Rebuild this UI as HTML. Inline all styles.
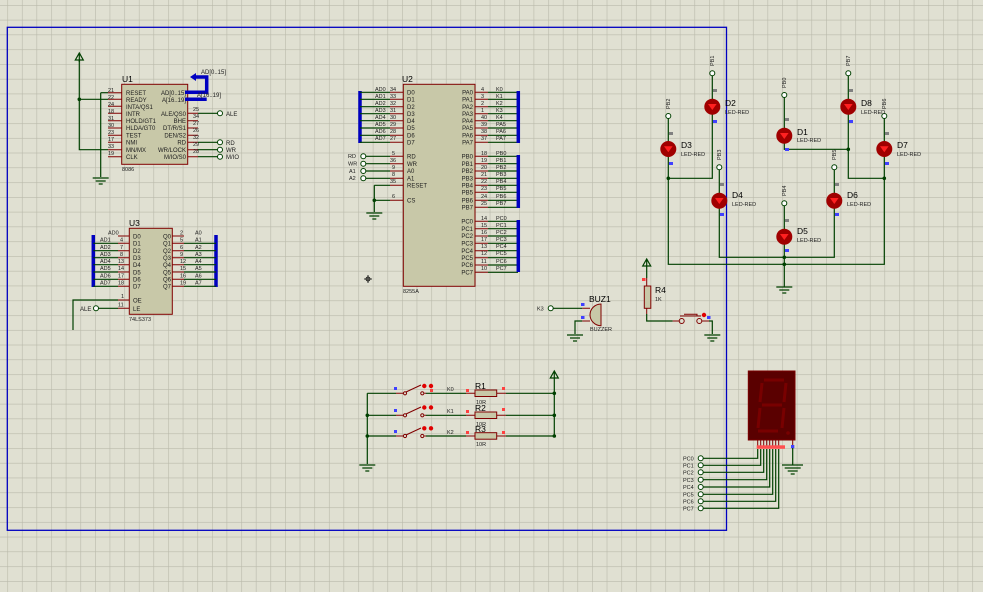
<!DOCTYPE html>
<html><head><meta charset="utf-8"><style>
html,body{margin:0;padding:0;background:#e0e0d2;}
svg{display:block;font-family:"Liberation Sans",sans-serif;}
.w{stroke:#004000;stroke-width:1.2;fill:none}
.p{stroke:#800000;stroke-width:1;fill:none}
.b{stroke:#0000c0;stroke-width:3.5;fill:none}
.t{font-size:6px;fill:#202020}
.n{font-size:5.5px;fill:#202020}
.c{font-size:8.5px;fill:#000}
.o{fill:#fff;stroke:#004000;stroke-width:1}
.j{fill:#004000}
.led{fill:#a00000}
</style></head><body>
<svg width="983" height="592" viewBox="0 0 983 592">
<defs>
<pattern id="g" x="7.3" y="5" width="14.62" height="14.77" patternUnits="userSpaceOnUse">
<path d="M0 0V14.77M0 0H14.62" stroke="#b9b9aa" stroke-width="1.2" fill="none"/>
</pattern>
<g id="gnd"><path d="M-8 0H8M-5 3H5M-2 6H2" stroke="#004000" stroke-width="1.2"/></g>
<g id="pwr"><path d="M0 0V-8M-4 -2L0 -9L4 -2Z" stroke="#004000" stroke-width="1.2" fill="none"/></g>
</defs>
<rect width="983" height="592" fill="#e0e0d2"/>
<rect width="983" height="592" fill="url(#g)"/>
<rect x="7.3" y="27.3" width="719.2" height="503" fill="none" stroke="#0000c0" stroke-width="1.3"/>

<!-- U1 8086 -->
<rect x="121.7" y="84.3" width="66" height="80" fill="#c8c8a8" stroke="#800000"/>
<text class="c" x="122" y="82">U1</text>
<text class="n" x="122" y="171">8086</text>
<g class="p">
<path d="M108 92.7H121.7M108 99.3H121.7M108 106.3H121.7M108 113.3H121.7M108 120.7H121.7M108 128H121.7M108 135.3H121.7M108 142.3H121.7M108 149.7H121.7M108 156.7H121.7"/>
<path d="M187.7 113.3H198M187.7 120.7H198M187.7 128H198M187.7 135.3H198M187.7 142.3H198M187.7 149.7H198M187.7 156.7H198"/>
</g>
<g class="t">
<text x="126" y="95">RESET</text><text x="126" y="102">READY</text><text x="126" y="109">INTA/QS1</text><text x="126" y="116">INTR</text><text x="126" y="123">HOLD/GT1</text><text x="126" y="130">HLDA/GT0</text><text x="126" y="137.5">TEST</text><text x="126" y="144.5">NMI</text><text x="126" y="152">MN/MX</text><text x="126" y="159">CLK</text>
</g>
<g class="t" text-anchor="end">
<text x="186" y="95">AD[0..15]</text><text x="186" y="102">A[16..19]</text><text x="186" y="116">ALE/QS0</text><text x="186" y="123">BHE</text><text x="186" y="130">DT/R/S1</text><text x="186" y="137.5">DEN/S2</text><text x="186" y="144.5">RD</text><text x="186" y="152">WR/LOCK</text><text x="186" y="159">M/IO/S0</text>
</g>
<g class="n">
<text x="108" y="92">21</text><text x="108" y="99">22</text><text x="108" y="106">24</text><text x="108" y="113">18</text><text x="108" y="120">31</text><text x="108" y="127">30</text><text x="108" y="134">23</text><text x="108" y="141">17</text><text x="108" y="148">33</text><text x="108" y="155">19</text>
<text x="193" y="111">25</text><text x="193" y="118">34</text><text x="193" y="125">27</text><text x="193" y="132">26</text><text x="193" y="139">32</text><text x="193" y="146">29</text><text x="193" y="153">28</text>
</g>
<path class="b" d="M185 92.3H206.7V77H193M185 99.3H206.7"/>
<path d="M196 73L190 77L196 81Z" fill="#0000c0"/>
<text class="t" x="201" y="74">AD[0..15]</text><text class="t" x="197" y="97">A[16..19]</text>
<path class="w" d="M79.3 60V149.7H108M79.3 99.3H108M100.7 92.7H108M100.7 92.7V177"/>
<circle class="j" cx="79.3" cy="99.3" r="1.8"/>
<use href="#pwr" x="79.3" y="62"/>
<use href="#gnd" x="100.7" y="178"/>
<path class="w" d="M198 113.3H217.5M198 142.3H217.5M198 149.7H217.5M198 156.7H217.5"/>
<circle class="o" cx="220" cy="113.3" r="2.5"/><circle class="o" cx="220" cy="142.3" r="2.5"/><circle class="o" cx="220" cy="149.7" r="2.5"/><circle class="o" cx="220" cy="156.7" r="2.5"/>
<g class="t"><text x="226" y="116">ALE</text><text x="226" y="145">RD</text><text x="226" y="152">WR</text><text x="226" y="159">M/IO</text></g>

<!-- U2 8255A -->
<rect x="403.3" y="84.3" width="71.7" height="202" fill="#c8c8a8" stroke="#800000"/>
<text class="c" x="402" y="82">U2</text>
<text class="n" x="403" y="293">8255A</text>
<path class="b" d="M360 91V143"/>
<path class="w" d="M360 92.3H390M360 99.3H390M360 106.7H390M360 113.7H390M360 120.7H390M360 128H390M360 135.3H390M360 142.3H390"/>
<path class="p" d="M390 92.3H403.3M390 99.3H403.3M390 106.7H403.3M390 113.7H403.3M390 120.7H403.3M390 128H403.3M390 135.3H403.3M390 142.3H403.3M390 156.3H403.3M390 163.7H403.3M390 171H403.3M390 178.3H403.3M390 185.3H403.3M390 200.3H403.3"/>
<g class="n"><text x="375" y="91">AD0</text><text x="375" y="98">AD1</text><text x="375" y="105">AD2</text><text x="375" y="112">AD3</text><text x="375" y="119">AD4</text><text x="375" y="126">AD5</text><text x="375" y="133">AD6</text><text x="375" y="140">AD7</text>
<text x="390" y="91">34</text><text x="390" y="98">33</text><text x="390" y="105">32</text><text x="390" y="112">31</text><text x="390" y="119">30</text><text x="390" y="126">29</text><text x="390" y="133">28</text><text x="390" y="140">27</text>
<text x="392" y="155">5</text><text x="390" y="162">36</text><text x="392" y="169">9</text><text x="392" y="176">8</text><text x="390" y="183">35</text><text x="392" y="198">6</text></g>
<g class="t"><text x="407" y="94.5">D0</text><text x="407" y="101.5">D1</text><text x="407" y="109">D2</text><text x="407" y="116">D3</text><text x="407" y="123">D4</text><text x="407" y="130">D5</text><text x="407" y="137.5">D6</text><text x="407" y="144.5">D7</text>
<text x="407" y="158.5">RD</text><text x="407" y="166">WR</text><text x="407" y="173">A0</text><text x="407" y="180.5">A1</text><text x="407" y="187.5">RESET</text><text x="407" y="202.5">CS</text></g>
<path class="w" d="M366 156.3H390M366 163.7H390M366 171H390M366 178.3H390M374.3 185.3H390M374.3 185.3V212M374.3 200.3H390"/>
<circle class="o" cx="363.3" cy="156.3" r="2.5"/><circle class="o" cx="363.3" cy="163.7" r="2.5"/><circle class="o" cx="363.3" cy="171" r="2.5"/><circle class="o" cx="363.3" cy="178.3" r="2.5"/>
<circle class="j" cx="374.3" cy="200.3" r="1.8"/>
<use href="#gnd" x="374.3" y="213"/>
<g class="n"><text x="348" y="158">RD</text><text x="348" y="165.5">WR</text><text x="349" y="173">A1</text><text x="349" y="180">A2</text></g>
<!-- right side -->
<path class="p" d="M475 92.3H488M475 99.3H488M475 106.7H488M475 113.7H488M475 120.7H488M475 128H488M475 135.3H488M475 142.3H488M475 156.3H488M475 163.7H488M475 171H488M475 178.3H488M475 185.3H488M475 192.3H488M475 200.3H488M475 207.3H488M475 221.3H488M475 228.7H488M475 236H488M475 243.3H488M475 250.7H488M475 257.7H488M475 265H488M475 272.3H488"/>
<path class="w" d="M488 92.3H518M488 99.3H518M488 106.7H518M488 113.7H518M488 120.7H518M488 128H518M488 135.3H518M488 142.3H518M488 156.3H518M488 163.7H518M488 171H518M488 178.3H518M488 185.3H518M488 192.3H518M488 200.3H518M488 207.3H518M488 221.3H518M488 228.7H518M488 236H518M488 243.3H518M488 250.7H518M488 257.7H518M488 265H518M488 272.3H518"/>
<path class="b" d="M518.3 91V143M518.3 155V208M518.3 220V272"/>
<g class="t" text-anchor="end"><text x="473" y="94.5">PA0</text><text x="473" y="101.5">PA1</text><text x="473" y="109">PA2</text><text x="473" y="116">PA3</text><text x="473" y="123">PA4</text><text x="473" y="130">PA5</text><text x="473" y="137.5">PA6</text><text x="473" y="144.5">PA7</text>
<text x="473" y="158.5">PB0</text><text x="473" y="166">PB1</text><text x="473" y="173">PB2</text><text x="473" y="180.5">PB3</text><text x="473" y="187.5">PB4</text><text x="473" y="194.5">PB5</text><text x="473" y="202.5">PB6</text><text x="473" y="209.5">PB7</text>
<text x="473" y="223.5">PC0</text><text x="473" y="231">PC1</text><text x="473" y="238">PC2</text><text x="473" y="245.5">PC3</text><text x="473" y="253">PC4</text><text x="473" y="260">PC5</text><text x="473" y="267">PC6</text><text x="473" y="274.5">PC7</text></g>
<g class="n"><text x="481" y="91">4</text><text x="481" y="98">3</text><text x="481" y="105">2</text><text x="481" y="112">1</text><text x="481" y="119">40</text><text x="481" y="126">39</text><text x="481" y="133">38</text><text x="481" y="140">37</text>
<text x="481" y="155">18</text><text x="481" y="162">19</text><text x="481" y="169">20</text><text x="481" y="176">21</text><text x="481" y="183">22</text><text x="481" y="190">23</text><text x="481" y="198">24</text><text x="481" y="205">25</text>
<text x="481" y="220">14</text><text x="481" y="227">15</text><text x="481" y="234">16</text><text x="481" y="241">17</text><text x="481" y="248">13</text><text x="481" y="255">12</text><text x="481" y="263">11</text><text x="481" y="270">10</text>
<text x="496" y="91">K0</text><text x="496" y="98">K1</text><text x="496" y="105">K2</text><text x="496" y="112">K3</text><text x="496" y="119">K4</text><text x="496" y="126">PA5</text><text x="496" y="133">PA6</text><text x="496" y="140">PA7</text>
<text x="496" y="155">PB0</text><text x="496" y="162">PB1</text><text x="496" y="169">PB2</text><text x="496" y="176">PB3</text><text x="496" y="183">PB4</text><text x="496" y="190">PB5</text><text x="496" y="198">PB6</text><text x="496" y="205">PB7</text>
<text x="496" y="220">PC0</text><text x="496" y="227">PC1</text><text x="496" y="234">PC2</text><text x="496" y="241">PC3</text><text x="496" y="248">PC4</text><text x="496" y="255">PC5</text><text x="496" y="263">PC6</text><text x="496" y="270">PC7</text></g>
<path d="M364 279H372M368 275V283" stroke="#000" stroke-width="0.8"/><circle cx="368" cy="279" r="2" fill="none" stroke="#000" stroke-width="0.8"/>

<!-- U3 74LS373 -->
<rect x="129.3" y="228.3" width="43" height="86" fill="#c8c8a8" stroke="#800000"/>
<text class="c" x="129" y="226">U3</text>
<text class="n" x="129" y="321">74LS373</text>
<path class="b" d="M93.3 235V287M216 235V287"/>
<path class="w" d="M93.3 243.3H118M93.3 250.7H118M93.3 257.7H118M93.3 264.7H118M93.3 272H118M93.3 279.3H118M93.3 286.3H118M184 243.3H216M184 250.7H216M184 257.7H216M184 264.7H216M184 272H216M184 279.3H216M184 286.3H216"/>
<path class="p" d="M118 236H129.3M118 243.3H129.3M118 250.7H129.3M118 257.7H129.3M118 264.7H129.3M118 272H129.3M118 279.3H129.3M118 286.3H129.3M118 300H129.3M118 308.3H129.3M172.3 236H184M172.3 243.3H184M172.3 250.7H184M172.3 257.7H184M172.3 264.7H184M172.3 272H184M172.3 279.3H184M172.3 286.3H184"/>
<path class="w" d="M73 330V300H118M98.5 308.3H118"/>
<circle class="o" cx="96" cy="308.3" r="2.5"/>
<text class="t" x="80" y="311">ALE</text>
<g class="t"><text x="133" y="238.5">D0</text><text x="133" y="245.5">D1</text><text x="133" y="253">D2</text><text x="133" y="260">D3</text><text x="133" y="267">D4</text><text x="133" y="274.5">D5</text><text x="133" y="281.5">D6</text><text x="133" y="288.5">D7</text><text x="133" y="302.5">OE</text><text x="133" y="311">LE</text></g>
<g class="t" text-anchor="end"><text x="171" y="238.5">Q0</text><text x="171" y="245.5">Q1</text><text x="171" y="253">Q2</text><text x="171" y="260">Q3</text><text x="171" y="267">Q4</text><text x="171" y="274.5">Q5</text><text x="171" y="281.5">Q6</text><text x="171" y="288.5">Q7</text></g>
<g class="n"><text x="108" y="234.5">AD0</text><text x="100" y="241.5">AD1</text><text x="100" y="249">AD2</text><text x="100" y="256">AD3</text><text x="100" y="263">AD4</text><text x="100" y="270">AD5</text><text x="100" y="277.5">AD6</text><text x="100" y="284.5">AD7</text>
<text x="120" y="241.5">4</text><text x="120" y="249">7</text><text x="120" y="256">8</text><text x="118" y="263">13</text><text x="118" y="270">14</text><text x="118" y="277.5">17</text><text x="118" y="284.5">18</text><text x="121" y="298">1</text><text x="118" y="306.5">11</text>
<text x="180" y="234.5">2</text><text x="180" y="241.5">5</text><text x="180" y="249">6</text><text x="180" y="256">9</text><text x="180" y="263">12</text><text x="180" y="270">15</text><text x="180" y="277.5">16</text><text x="180" y="284.5">19</text>
<text x="195" y="234.5">A0</text><text x="195" y="241.5">A1</text><text x="195" y="249">A2</text><text x="195" y="256">A3</text><text x="195" y="263">A4</text><text x="195" y="270">A5</text><text x="195" y="277.5">A6</text><text x="195" y="284.5">A7</text></g>

<!-- LEDs -->
<path class="w" d="M712.3 76V178.3H668.3M668.3 118.5V264.3H884.3V118.5M784.3 97.5V149.3H848.3M848.3 76V178.3H884.3M719.3 170V257.3H834.3V170M784.3 206V287"/>
<g class="j"><circle cx="668.3" cy="178.3" r="1.8"/><circle cx="884.3" cy="178.3" r="1.8"/><circle cx="848.3" cy="149.3" r="1.8"/><circle cx="784.3" cy="257.3" r="1.8"/><circle cx="784.3" cy="264.3" r="1.8"/></g>
<use href="#gnd" x="784.3" y="287"/>
<g class="o"><circle cx="712.3" cy="73.3" r="2.5"/><circle cx="668.3" cy="116" r="2.5"/><circle cx="784.3" cy="95" r="2.5"/><circle cx="848.3" cy="73.3" r="2.5"/><circle cx="884.3" cy="116" r="2.5"/><circle cx="719.3" cy="167.3" r="2.5"/><circle cx="834.3" cy="167.3" r="2.5"/><circle cx="784.3" cy="203.3" r="2.5"/></g>
<g class="n">
<text transform="translate(714,66) rotate(-90)">PB1</text><text transform="translate(670,109) rotate(-90)">PB2</text><text transform="translate(786,88) rotate(-90)">PB0</text><text transform="translate(850,66) rotate(-90)">PB7</text><text transform="translate(886,109) rotate(-90)">PB6</text><text transform="translate(721,160) rotate(-90)">PB3</text><text transform="translate(836,160) rotate(-90)">PB5</text><text transform="translate(786,196) rotate(-90)">PB4</text>
</g>
<g>
<circle class="led" cx="712.3" cy="106.7" r="8"/><path d="M708 104H716.6L712.3 110Z" fill="#ff2020"/>
<circle class="led" cx="668.3" cy="149" r="8"/><path d="M664 146.3H672.6L668.3 152.3Z" fill="#ff2020"/>
<circle class="led" cx="784.3" cy="135.7" r="8"/><path d="M780 133H788.6L784.3 139Z" fill="#ff2020"/>
<circle class="led" cx="848.3" cy="106.7" r="8"/><path d="M844 104H852.6L848.3 110Z" fill="#ff2020"/>
<circle class="led" cx="884.3" cy="149" r="8"/><path d="M880 146.3H888.6L884.3 152.3Z" fill="#ff2020"/>
<circle class="led" cx="719.3" cy="200.7" r="8"/><path d="M715 198H723.6L719.3 204Z" fill="#ff2020"/>
<circle class="led" cx="834.3" cy="200.7" r="8"/><path d="M830 198H838.6L834.3 204Z" fill="#ff2020"/>
<circle class="led" cx="784.3" cy="236.7" r="8"/><path d="M780 234H788.6L784.3 240Z" fill="#ff2020"/>
</g>
<g fill="#808080"><rect x="713" y="89" width="4" height="3"/><rect x="669" y="132" width="4" height="3"/><rect x="785" y="118" width="4" height="3"/><rect x="849" y="89" width="4" height="3"/><rect x="885" y="132" width="4" height="3"/><rect x="720" y="183" width="4" height="3"/><rect x="835" y="183" width="4" height="3"/><rect x="785" y="219" width="4" height="3"/></g>
<g fill="#4040ff"><rect x="713" y="120" width="4" height="3"/><rect x="669" y="162" width="4" height="3"/><rect x="785" y="148" width="4" height="3"/><rect x="849" y="120" width="4" height="3"/><rect x="885" y="162" width="4" height="3"/><rect x="720" y="213" width="4" height="3"/><rect x="835" y="213" width="4" height="3"/><rect x="785" y="249" width="4" height="3"/></g>
<g class="c"><text x="725" y="106">D2</text><text x="681" y="148">D3</text><text x="797" y="135">D1</text><text x="861" y="106">D8</text><text x="897" y="148">D7</text><text x="732" y="198">D4</text><text x="847" y="198">D6</text><text x="797" y="234">D5</text></g>
<g class="n"><text x="725" y="114">LED-RED</text><text x="681" y="156">LED-RED</text><text x="797" y="142">LED-RED</text><text x="861" y="114">LED-RED</text><text x="897" y="156">LED-RED</text><text x="732" y="206">LED-RED</text><text x="847" y="206">LED-RED</text><text x="797" y="242">LED-RED</text></g>

<!-- Buzzer -->
<circle class="o" cx="550.7" cy="308.3" r="2.5"/>
<text class="n" x="537" y="310.5">K3</text>
<path class="w" d="M553.2 308.3H582.3M582.3 321H575V334"/>
<path class="p" d="M582.3 308.3H590M582.3 321H590"/>
<use href="#gnd" x="575" y="335"/>
<path d="M601 304V325.7A11 11 0 0 1 590 314.8A11 11 0 0 1 601 304Z" fill="#c8c8a8" stroke="#800000"/>
<rect x="581" y="303" width="3.5" height="3" fill="#4040ff"/><rect x="581" y="316" width="3.5" height="3" fill="#4040ff"/>
<text class="c" x="589" y="302">BUZ1</text><text class="n" x="590" y="331">BUZZER</text>
<!-- R4 and button -->
<use href="#pwr" x="646.7" y="268"/>
<path class="w" d="M646.7 268V278M646.7 314V321H672.7M709 321H712.3V334"/>
<path class="p" d="M646.7 278V286M672.7 321H679.2M701.8 321H709"/>
<rect x="644.3" y="286" width="6.5" height="22.3" fill="#c8c8a8" stroke="#800000"/>
<path class="p" d="M646.7 308.3V314"/>
<rect x="642" y="278" width="3.5" height="3" fill="#ff4040"/>
<text class="c" x="655" y="293">R4</text><text class="n" x="655" y="301">1K</text>
<circle cx="681.7" cy="321" r="2.5" fill="none" stroke="#800000"/><circle cx="699.3" cy="321" r="2.5" fill="none" stroke="#800000"/>
<path class="p" d="M680 316H701M684 314.3H697V316"/>
<circle cx="704" cy="315" r="2.2" fill="#e00000"/><rect x="707" y="316" width="3.5" height="3" fill="#4040ff"/>
<use href="#gnd" x="712.3" y="335"/>

<!-- Switches & R1-R3 -->
<use href="#pwr" x="554.3" y="380"/>
<path class="w" d="M367.3 393.3V464M367.3 393.3H396M367.3 415.3H396M367.3 436H396M426 393.3H466M426 415.3H466M426 436H466M506 393.3H554.3M506 415.3H554.3M506 436H554.3M554.3 380V436"/>
<g class="j"><circle cx="367.3" cy="415.3" r="1.8"/><circle cx="367.3" cy="436" r="1.8"/><circle cx="554.3" cy="393.3" r="1.8"/><circle cx="554.3" cy="415.3" r="1.8"/><circle cx="554.3" cy="436" r="1.8"/></g>
<use href="#gnd" x="367.3" y="465"/>
<g class="p">
<path d="M396 393.3H403M396 415.3H403M396 436H403M424.5 393.3H426M424.5 415.3H426M424.5 436H426M466 393.3H475M466 415.3H475M466 436H475M496.7 393.3H506M496.7 415.3H506M496.7 436H506"/>
<circle cx="405" cy="393.3" r="1.6"/><circle cx="422.3" cy="393.3" r="1.6"/><circle cx="405" cy="415.3" r="1.6"/><circle cx="422.3" cy="415.3" r="1.6"/><circle cx="405" cy="436" r="1.6"/><circle cx="422.3" cy="436" r="1.6"/>
<path d="M406 392L421 385M406 414L421 407M406 435L421 428"/>
</g>
<rect x="475" y="390" width="21.7" height="6.5" fill="#c8c8a8" stroke="#800000"/>
<rect x="475" y="412" width="21.7" height="6.5" fill="#c8c8a8" stroke="#800000"/>
<rect x="475" y="432.7" width="21.7" height="6.5" fill="#c8c8a8" stroke="#800000"/>
<g fill="#e00000"><circle cx="424.3" cy="386" r="2.2"/><circle cx="431" cy="386" r="2.2"/><circle cx="424.3" cy="407.5" r="2.2"/><circle cx="431" cy="407.5" r="2.2"/><circle cx="424.3" cy="428.3" r="2.2"/><circle cx="431" cy="428.3" r="2.2"/></g>
<g fill="#ff4040"><rect x="430" y="389" width="3" height="3"/><rect x="466" y="389" width="3" height="3"/><rect x="502" y="387" width="3" height="3"/><rect x="466" y="410" width="3" height="3"/><rect x="502" y="408" width="3" height="3"/><rect x="466" y="431" width="3" height="3"/><rect x="502" y="431" width="3" height="3"/></g>
<g fill="#4040ff"><rect x="394" y="387" width="3" height="3"/><rect x="394" y="409" width="3" height="3"/><rect x="394" y="430" width="3" height="3"/></g>
<g class="n"><text x="447" y="391">K0</text><text x="447" y="413">K1</text><text x="447" y="434">K2</text><text x="476" y="404">10R</text><text x="476" y="426">10R</text><text x="476" y="446">10R</text></g>
<g class="c"><text x="475" y="389">R1</text><text x="475" y="411">R2</text><text x="475" y="432">R3</text></g>

<!-- 7-seg -->
<rect x="748.3" y="371" width="46.7" height="69" fill="#5a0000" stroke="#7a0000"/>
<g fill="none" stroke="#780000" stroke-width="3">
<path d="M764 380H784M762 383L760 402M786 383L784 402M762 405H782M760 408L758 428M784 408L782 428M758 431H778"/>
</g>
<circle cx="788" cy="433" r="1.8" fill="#780000"/>
<path class="p" d="M757.7 440V447M760.7 440V447M763.7 440V447M766.7 440V447M769.7 440V447M772.7 440V447M775.7 440V447M778.7 440V447M792.7 440V448"/>
<rect x="756.7" y="445.3" width="28.3" height="3.5" fill="#ff5050"/>
<rect x="791" y="445" width="3.3" height="3.3" fill="#4040ff"/>
<path class="w" d="M757.7 449V458.3H703.2M760.7 449V465.3H703.2M763.7 449V472.3H703.2M766.7 449V479.7H703.2M769.7 449V487H703.2M772.7 449V494.3H703.2M775.7 449V501.3H703.2M778.7 449V508.3H703.2M792.7 448V465M782 465H803"/>
<use href="#gnd" x="792.7" y="468"/>
<g class="o"><circle cx="700.7" cy="458.3" r="2.5"/><circle cx="700.7" cy="465.3" r="2.5"/><circle cx="700.7" cy="472.3" r="2.5"/><circle cx="700.7" cy="479.7" r="2.5"/><circle cx="700.7" cy="487" r="2.5"/><circle cx="700.7" cy="494.3" r="2.5"/><circle cx="700.7" cy="501.3" r="2.5"/><circle cx="700.7" cy="508.3" r="2.5"/></g>
<g class="n"><text x="683" y="460.5">PC0</text><text x="683" y="467.5">PC1</text><text x="683" y="474.5">PC2</text><text x="683" y="482">PC3</text><text x="683" y="489">PC4</text><text x="683" y="496.5">PC5</text><text x="683" y="503.5">PC6</text><text x="683" y="510.5">PC7</text></g>
</svg>
</body></html>
